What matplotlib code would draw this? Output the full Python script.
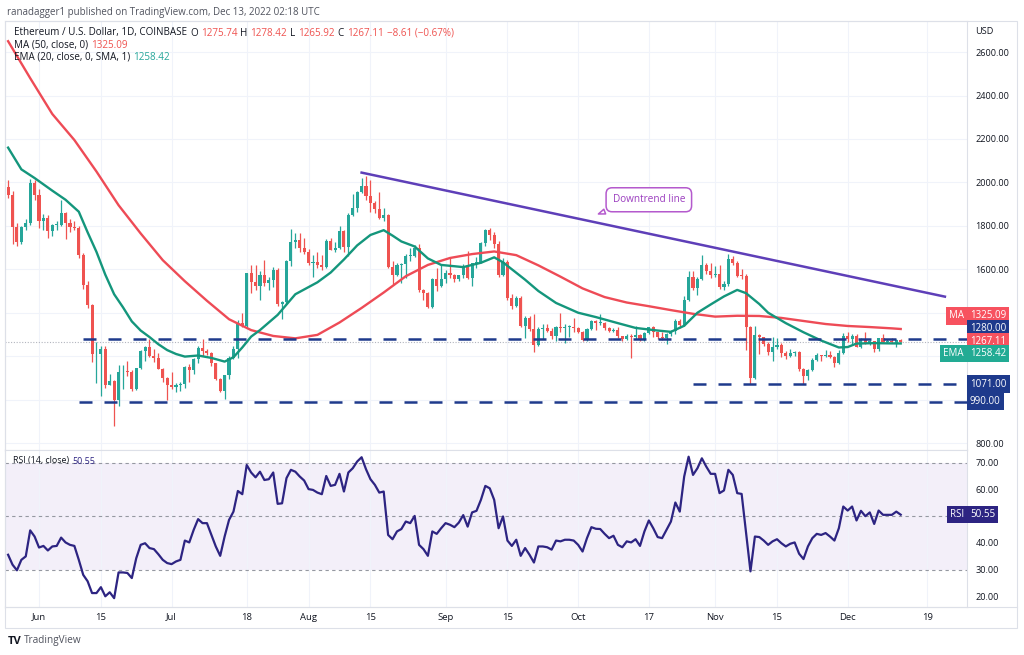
import numpy as np
import pandas as pd
import matplotlib
matplotlib.use('Agg')
import matplotlib.pyplot as plt
import matplotlib.dates as mdates
from matplotlib.patches import Rectangle

plt.rcParams['font.family'] = ['Open Sans', 'DejaVu Sans']

# ETH/USD daily candles, 25 May - 13 Dec 2022
start_day = '2022-05-25'
opens = [
    1978, 1943, 1793, 1725, 1793, 1811, 1996,
    1943, 1823, 1834, 1774, 1805, 1805, 1859, 1813, 1793, 1789, 1664, 1529, 1436, 1208, 1211,
    1235, 1069, 1087, 996, 1125, 1127, 1125, 1051, 1144, 1225, 1243, 1200, 1192, 1143, 1099,
    1068, 1059, 1066, 1074, 1150, 1134, 1187, 1238, 1222, 1216, 1168, 1097, 1038, 1113, 1192,
    1233, 1354, 1339, 1582, 1543, 1524, 1575, 1536, 1550, 1597, 1438, 1450, 1637, 1725, 1735, 1696,
    1679, 1631, 1633, 1618, 1609, 1730, 1690, 1700, 1776, 1701, 1850, 1880, 1957, 1984, 1936,
    1903, 1876, 1835, 1850, 1610, 1575, 1620, 1625, 1660, 1660, 1700, 1505, 1490, 1425, 1555, 1525,
    1555, 1585, 1575, 1555, 1575, 1615, 1560, 1630, 1635, 1720, 1780, 1760, 1715, 1575, 1635,
    1470, 1430, 1470, 1340, 1375, 1325, 1252, 1327, 1328, 1317, 1294, 1336, 1329, 1336, 1336,
    1328, 1311, 1276, 1323, 1362, 1352, 1352, 1331, 1317, 1322, 1291, 1279, 1295, 1288, 1297, 1275,
    1306, 1332, 1310, 1286, 1282, 1300, 1314, 1364, 1345, 1460, 1566, 1514, 1555, 1619, 1590,
    1572, 1578, 1519, 1532, 1646, 1628, 1570, 1568, 1336, 1100, 1298, 1286, 1257, 1219, 1242,
    1253, 1216, 1201, 1213, 1218, 1142, 1108, 1134, 1183, 1204, 1199, 1205, 1196, 1168, 1216,
    1295, 1277, 1294, 1241, 1281, 1260, 1270, 1232, 1282, 1264, 1265, 1262, 1275.74,
]
highs = [
    2010, 1962, 1812, 1800, 1830, 2015, 2010,
    1970, 1855, 1848, 1810, 1820, 1920, 1865, 1830, 1820, 1800, 1675, 1545, 1440, 1265, 1245,
    1245, 1120, 1090, 1160, 1160, 1180, 1135, 1145, 1230, 1248, 1280, 1235, 1215, 1145, 1105,
    1125, 1075, 1080, 1155, 1165, 1190, 1245, 1280, 1235, 1220, 1170, 1100, 1115, 1200, 1245,
    1365, 1400, 1585, 1620, 1620, 1590, 1645, 1565, 1610, 1605, 1455, 1645, 1785, 1765, 1765, 1745,
    1695, 1665, 1680, 1665, 1740, 1745, 1725, 1800, 1780, 1860, 1945, 1960, 2020, 2030, 2010,
    1915, 1955, 1880, 1855, 1640, 1630, 1630, 1670, 1700, 1710, 1715, 1510, 1495, 1560, 1605, 1620,
    1595, 1650, 1580, 1575, 1625, 1685, 1630, 1655, 1725, 1785, 1790, 1770, 1730, 1650, 1645,
    1485, 1475, 1475, 1385, 1385, 1395, 1335, 1350, 1350, 1330, 1340, 1400, 1350, 1345, 1375,
    1335, 1318, 1330, 1365, 1365, 1395, 1355, 1335, 1328, 1335, 1295, 1300, 1300, 1340, 1300, 1310,
    1335, 1340, 1312, 1310, 1305, 1320, 1370, 1370, 1475, 1590, 1590, 1565, 1665, 1630, 1630,
    1615, 1620, 1545, 1670, 1660, 1640, 1600, 1580, 1340, 1340, 1300, 1290, 1265, 1290, 1285,
    1260, 1225, 1235, 1225, 1222, 1145, 1140, 1190, 1215, 1205, 1230, 1225, 1200, 1230, 1305,
    1310, 1300, 1300, 1285, 1310, 1275, 1272, 1285, 1300, 1280, 1285, 1280, 1278.42,
]
lows = [
    1930, 1715, 1706, 1718, 1780, 1805, 1920,
    1790, 1782, 1745, 1755, 1780, 1800, 1740, 1770, 1780, 1650, 1510, 1420, 1175, 1075, 1015,
    1055, 1065, 880, 970, 1050, 1110, 1040, 1045, 1140, 1180, 1195, 1175, 1140, 1080, 1000,
    1050, 1035, 1040, 1055, 1080, 1120, 1170, 1200, 1205, 1155, 1090, 1035, 1005, 1095, 1185,
    1190, 1335, 1335, 1490, 1505, 1460, 1525, 1505, 1520, 1430, 1370, 1440, 1615, 1700, 1680, 1670,
    1620, 1565, 1605, 1595, 1605, 1688, 1680, 1695, 1680, 1660, 1845, 1865, 1950, 1920, 1865,
    1860, 1830, 1820, 1605, 1530, 1570, 1535, 1560, 1640, 1655, 1495, 1460, 1420, 1420, 1500, 1520,
    1535, 1560, 1540, 1545, 1560, 1555, 1525, 1605, 1630, 1705, 1735, 1700, 1565, 1570, 1460,
    1415, 1425, 1335, 1285, 1315, 1220, 1245, 1280, 1310, 1280, 1270, 1310, 1260, 1290, 1310,
    1305, 1270, 1272, 1320, 1320, 1345, 1322, 1310, 1310, 1285, 1270, 1275, 1190, 1280, 1270, 1272,
    1300, 1290, 1280, 1275, 1255, 1295, 1300, 1330, 1340, 1455, 1505, 1480, 1550, 1580, 1560,
    1565, 1510, 1505, 1525, 1620, 1565, 1555, 1230, 1073, 1095, 1210, 1245, 1205, 1180, 1235,
    1195, 1185, 1195, 1200, 1130, 1074, 1090, 1130, 1180, 1180, 1195, 1190, 1150, 1165, 1210,
    1265, 1255, 1240, 1238, 1255, 1250, 1220, 1225, 1260, 1260, 1260, 1240, 1265.92,
]
closes = [
    1943, 1793, 1725, 1793, 1811, 1996, 1943,
    1823, 1834, 1774, 1805, 1805, 1859, 1813, 1793, 1789, 1664, 1529, 1436, 1208, 1211, 1235,
    1069, 1087, 996, 1125, 1127, 1125, 1051, 1144, 1225, 1243, 1200, 1192, 1143, 1099, 1068,
    1059, 1066, 1074, 1150, 1134, 1187, 1238, 1222, 1216, 1168, 1097, 1038, 1113, 1192, 1233,
    1354, 1339, 1582, 1543, 1524, 1575, 1536, 1550, 1597, 1438, 1450, 1637, 1725, 1735, 1696, 1679,
    1631, 1633, 1618, 1609, 1730, 1690, 1700, 1776, 1701, 1850, 1880, 1957, 1984, 1936, 1903,
    1876, 1835, 1850, 1610, 1575, 1620, 1625, 1660, 1660, 1700, 1505, 1490, 1425, 1555, 1525, 1555,
    1585, 1575, 1555, 1575, 1615, 1560, 1630, 1635, 1720, 1780, 1760, 1715, 1575, 1635, 1470,
    1430, 1470, 1340, 1375, 1325, 1252, 1327, 1328, 1317, 1294, 1336, 1329, 1336, 1336, 1328,
    1311, 1276, 1323, 1362, 1352, 1352, 1331, 1317, 1322, 1291, 1279, 1295, 1288, 1297, 1275, 1306,
    1332, 1310, 1286, 1282, 1300, 1314, 1364, 1345, 1460, 1566, 1514, 1555, 1619, 1590, 1572,
    1578, 1519, 1532, 1646, 1628, 1570, 1568, 1336, 1100, 1298, 1286, 1257, 1219, 1242, 1253,
    1216, 1201, 1213, 1218, 1142, 1108, 1134, 1183, 1204, 1199, 1205, 1196, 1168, 1216, 1295,
    1277, 1294, 1241, 1281, 1260, 1270, 1232, 1282, 1264, 1265, 1262, 1276, 1267.11,
]

# MA(50) and EMA(20) read at chosen days (day number counted from start_day)
ma_days = [0, 5, 10, 15, 20, 25, 30, 35, 40, 45, 50, 55, 60, 65, 70, 75, 80, 85, 90, 95, 100,
           105, 110, 115, 120, 125, 130, 135, 140, 145, 150, 155, 160, 165, 170, 175, 180,
           185, 190, 195, 200, 202]
ma_vals = [2650, 2480, 2315, 2195, 2050, 1895, 1765, 1642, 1545, 1455, 1370, 1320, 1293, 1282,
           1298, 1355, 1422, 1493, 1568, 1620, 1652, 1670, 1682, 1665, 1618, 1566, 1512, 1472,
           1447, 1430, 1412, 1395, 1382, 1386, 1385, 1376, 1362, 1348, 1339, 1334, 1328, 1325.09]
ema_days = [0, 3, 6, 10, 13, 16, 18, 20, 22, 24, 26, 28, 30, 32, 34, 36, 38, 40, 43, 46, 49,
            51, 53, 55, 57, 61, 65, 68, 70, 73, 76, 79, 82, 85, 87, 89, 92, 95, 98, 103, 107,
            110, 112, 114, 117, 120, 124, 129, 133, 138, 142, 147, 150, 153, 156, 159, 162,
            165, 167, 170, 172, 176, 180, 184, 188, 190, 192, 196, 199, 202]
ema_vals = [2160, 2060, 2020, 1962, 1920, 1865, 1770, 1680, 1575, 1485, 1425, 1360, 1318, 1288,
            1255, 1228, 1210, 1198, 1203, 1192, 1175, 1195, 1240, 1290, 1320, 1390, 1485, 1518,
            1540, 1585, 1645, 1710, 1758, 1780, 1755, 1728, 1705, 1650, 1620, 1610, 1630, 1655,
            1632, 1600, 1552, 1500, 1445, 1400, 1380, 1352, 1330, 1318, 1312, 1340, 1400, 1438,
            1475, 1505, 1490, 1440, 1400, 1352, 1310, 1272, 1240, 1242, 1258, 1260, 1259, 1258.42]

# RSI(14), one value per candle
rsi = [
    35.6, 31.9, 29.8, 33.7, 35.0, 44.7, 42.4, 38.3, 38.9, 37.2,
    38.7, 38.9, 42.0, 40.2, 39.3, 38.9, 33.7, 28.1, 25.7, 21.3,
    21.3, 23.5, 20.1, 21.6, 19.4, 29.0, 29.0, 28.8, 26.9, 34.3,
    39.3, 39.9, 38.1, 37.7, 35.8, 33.7, 32.5, 32.1, 33.1, 33.7,
    40.9, 40.2, 44.9, 48.9, 47.4, 47.4, 43.0, 38.7, 35.2, 42.4,
    48.6, 51.7, 59.4, 58.2, 69.1, 66.3, 64.5, 66.6, 63.5, 63.8,
    66.3, 54.6, 54.8, 64.2, 67.3, 66.6, 64.8, 63.3, 60.1, 59.8,
    58.8, 58.2, 65.0, 61.3, 61.7, 65.8, 59.2, 66.3, 67.9, 70.4,
    72.0, 67.5, 63.8, 61.7, 58.8, 59.2, 43.0, 41.4, 44.3, 45.2,
    48.0, 47.4, 50.1, 39.3, 37.7, 35.2, 44.3, 43.4, 45.5, 47.4,
    46.8, 45.9, 47.6, 50.4, 46.1, 51.4, 52.0, 56.1, 61.3, 60.4,
    56.1, 45.5, 49.9, 40.9, 38.9, 41.2, 35.2, 38.1, 35.6, 32.7,
    38.7, 38.7, 38.4, 37.5, 40.9, 40.6, 41.2, 41.2, 40.9, 39.3,
    36.8, 41.8, 45.9, 45.3, 45.2, 43.4, 41.8, 42.7, 39.3, 38.4,
    40.6, 40.2, 41.4, 38.9, 44.3, 48.4, 45.5, 42.2, 41.8, 44.9,
    48.0, 55.1, 51.7, 64.8, 72.2, 65.4, 67.9, 71.6, 68.5, 65.8,
    65.8, 58.6, 59.6, 67.3, 65.4, 58.6, 58.3, 43.7, 29.4, 42.4,
    42.2, 40.9, 39.3, 40.6, 41.4, 39.9, 38.7, 39.7, 40.2, 36.0,
    34.0, 38.7, 41.8, 43.4, 43.0, 43.7, 42.4, 40.9, 45.5, 53.6,
    52.1, 53.6, 48.4, 52.0, 50.0, 51.4, 47.1, 52.1, 50.5, 50.5,
    50.5, 51.7, 50.55,
]

# drawn levels
support_levels = [1280, 1071, 990]
support_from = ['2022-06-11', '2022-10-27', '2022-06-10']
trend_dates = ['2022-08-13', '2022-12-23']
trend_prices = [2045, 1474]

tick_dates = ['2022-06-01', '2022-06-15', '2022-07-01', '2022-07-18', '2022-08-01', '2022-08-15',
              '2022-09-01', '2022-09-15', '2022-10-01', '2022-10-17', '2022-11-01', '2022-11-15',
              '2022-12-01', '2022-12-19']
tick_labels = ['Jun', '15', 'Jul', '18', 'Aug', '15', 'Sep', '15', 'Oct', '17', 'Nov', '15',
               'Dec', '19']
price_ticks = [800, 1000, 1200, 1400, 1600, 1800, 2000, 2200, 2400, 2600]
rsi_ticks = [20, 30, 40, 50, 60, 70]

GREEN = '#26A69A'
RED = '#EF5350'
MA_COL = '#EE4B56'
EMA_COL = '#14967C'
NAVY = '#1E3A8C'
RSI_COL = '#2D2482'
GRID = '#F0F3FA'
FRAME = '#DDE0E8'
TXT = '#131722'

W, H = 1024, 655
fig = plt.figure(figsize=(W / 100, H / 100), dpi=100)
fig.patch.set_facecolor('white')


def box(l, t, r, b):
    return [l / W, 1 - b / H, (r - l) / W, (b - t) / H]


ax = fig.add_axes(box(5, 21, 967, 450))
rax = fig.add_axes(box(5, 450, 967, 607), sharex=ax)

days = pd.date_range(start_day, periods=len(closes), freq='D')
x = mdates.date2num(days)
o, h, l, c = map(np.array, (opens, highs, lows, closes))
col = np.where(c >= o, GREEN, RED)
height = c - o
height[np.abs(height) < 4] = 4

ax.vlines(x, l, h, colors=col, lw=0.9, zorder=3)
ax.bar(x, height, bottom=o, width=0.7, color=col, linewidth=0, zorder=4)

ax.plot(x[ma_days], ma_vals, color=MA_COL, lw=1.7, zorder=5)
ax.plot(x[ema_days], ema_vals, color=EMA_COL, lw=1.7, zorder=5)

x_right = x[0] + 217
x_left = x[0] - 0.7
for lvl, d0 in zip(support_levels, support_from):
    ax.hlines(lvl, mdates.date2num(pd.Timestamp(d0)), x_right, colors=NAVY, lw=1.8,
              linestyles=(0, (5.2, 4.8)), zorder=6)
ax.axhline(closes[-1], color='#B2B5BE', lw=0.8, ls=(0, (1, 1.5)), zorder=2)

tx = mdates.date2num(pd.to_datetime(trend_dates))
ax.plot(tx, trend_prices, color='#5E3FB8', lw=1.8, zorder=6)

ax.annotate('Downtrend line', xy=(mdates.date2num(pd.Timestamp('2022-10-05')), 1850),
            xytext=(mdates.date2num(pd.Timestamp('2022-10-17')), 1920),
            ha='center', va='center', color='#9B3DBF', fontsize=7.2,
            bbox=dict(boxstyle='round,pad=0.65,rounding_size=0.6', fc='white', ec='#B45ACD', lw=1.1),
            arrowprops=dict(arrowstyle='wedge,tail_width=0.5,shrink_factor=0.5', fc='white',
                            ec='#B45ACD', lw=1.1, relpos=(0.12, 0.0)),
            zorder=8)

ax.set_xlim(x_left, x_right)
ax.set_ylim(768, 2743)
ax.yaxis.tick_right()
ax.set_yticks(price_ticks)
ax.set_yticklabels(['%.2f' % v if v not in (1000, 1200, 1400) else '' for v in price_ticks])
ax.set_xticks(mdates.date2num(pd.to_datetime(tick_dates)))
ax.tick_params(axis='x', labelbottom=False, length=0)
ax.tick_params(axis='y', length=0, pad=6, labelsize=6.6, labelcolor=TXT)
ax.grid(True, color=GRID, lw=0.8, zorder=0)
ax.set_axisbelow(True)

# RSI panel
rax.axhspan(30, 70, color='#7E57C2', alpha=0.09, lw=0)
for lvl in (70, 50, 30):
    rax.axhline(lvl, color='#9598A1', lw=0.8, ls=(0, (3, 3)))
rax.plot(x, rsi, color=RSI_COL, lw=1.6, zorder=5)
rax.set_ylim(16.1, 74.7)
rax.yaxis.tick_right()
rax.set_yticks(rsi_ticks)
# the 50.00 label sits under the RSI value tag
rax.set_yticklabels(['%.2f' % v if v != 50 else '' for v in rsi_ticks])
rax.set_xticks(mdates.date2num(pd.to_datetime(tick_dates)))
rax.set_xticklabels(tick_labels)
rax.tick_params(axis='y', length=0, pad=6, labelsize=6.6, labelcolor=TXT)
rax.tick_params(axis='x', length=0, pad=4, labelsize=6.8, labelcolor=TXT)
rax.grid(True, axis='x', color=GRID, lw=0.8)

for a in (ax, rax):
    for s in a.spines.values():
        s.set_color(FRAME)
        s.set_linewidth(0.8)

# outer frame around price scale and time scale
fig.patches.append(Rectangle((5 / W, 1 - 628 / H), 1012 / W, 607 / H, transform=fig.transFigure,
                             fill=False, ec=FRAME, lw=0.8))
fig.add_artist(plt.Line2D([5 / W, 1017 / W], [1 - 607 / H] * 2, transform=fig.transFigure,
                          color=FRAME, lw=0.8))


def tag(a, y, text, fc, dy=0, left=False):
    a.annotate(text, xy=(1.0, y), xycoords=a.get_yaxis_transform(),
               xytext=(-3 if left else 3, dy), textcoords='offset pixels',
               ha='right' if left else 'left', va='center', color='white', fontsize=7,
               bbox=dict(boxstyle='square,pad=0.33', fc=fc, ec='none'),
               annotation_clip=False, zorder=20)


tag(ax, 1325.09, 'MA', '#F7525F', dy=13, left=True)
tag(ax, 1325.09, '1325.09', '#F7525F', dy=13)
tag(ax, 1280, '1280.00', NAVY, dy=10)
tag(ax, 1267.11, '1267.11', '#F7525F')
tag(ax, 1258.42, 'EMA', '#22AB94', dy=-10, left=True)
tag(ax, 1258.42, '1258.42', '#22AB94', dy=-10)
tag(ax, 1071, '1071.00', NAVY)
tag(ax, 990, '990.00', NAVY)
tag(rax, 50.55, 'RSI', RSI_COL, left=True)
tag(rax, 50.55, '50.55', RSI_COL)

fig.text(975 / W, 1 - 31 / H, 'USD', fontsize=6.6, color=TXT, va='center')

renderer = fig.canvas.get_renderer()


def chain(x0, y, pieces, size=7.1, gap=3):
    xx = x0
    for s, cl in pieces:
        t = fig.text(xx / W, 1 - y / H, s, fontsize=size, color=cl, va='center', ha='left')
        xx = t.get_window_extent(renderer).x1 + gap


fig.text(7 / W, 1 - 12 / H, 'ranadagger1 published on TradingView.com, Dec 13, 2022 02:18 UTC',
         fontsize=7, color='#50535E', va='center')
chain(14, 33, [('Ethereum / U.S. Dollar, 1D, COINBASE', TXT), ('O', TXT), ('1275.74', RED),
               ('H', TXT), ('1278.42', RED), ('L', TXT), ('1265.92', RED), ('C', TXT),
               ('1267.11', RED), ('\u22128.61 (\u22120.67%)', RED)])
chain(14, 45, [('MA (50, close, 0)', TXT), ('1325.09', RED)])
chain(14, 57, [('EMA (20, close, 0, SMA, 1)', TXT), ('1258.42', GREEN)])
chain(13, 461, [('RSI (14, close)', TXT), ('50.55', RSI_COL)], size=6.4)

fig.text(8 / W, 1 - 641 / H, 'TV', fontsize=8, color=TXT, weight='bold', va='center')
fig.text(24 / W, 1 - 641 / H, 'TradingView', fontsize=7.2, color='#50535E', va='center')

fig.savefig('out.png', dpi=100, facecolor='white')
